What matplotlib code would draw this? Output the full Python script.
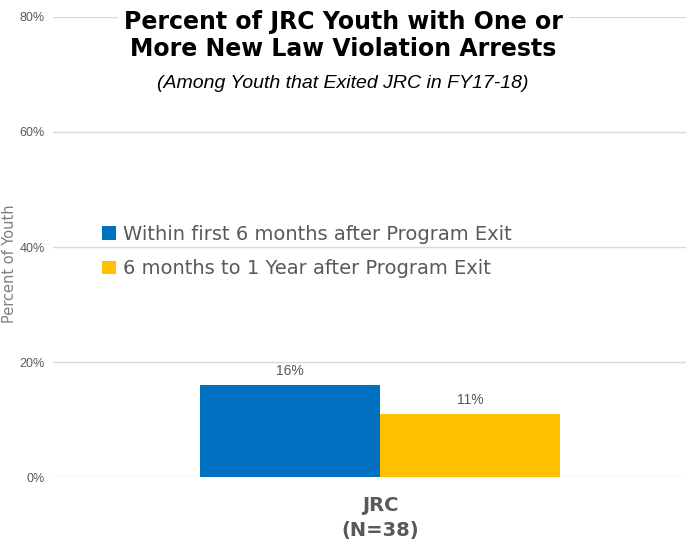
import numpy as np
import matplotlib.pyplot as plt

# Data
categories = ['JRC\n(N=38)']
series_names = ['Within first 6 months after Program Exit',
                '6 months to 1 Year after Program Exit']
series_values = [[16], [11]]
colors = ['#0070C0', '#FFC000']
y_ticks = [0, 20, 40, 60, 80]

narrow = ['Liberation Sans', 'DejaVu Sans']
gray = '#595959'

fig = plt.figure(figsize=(6.86, 5.5), dpi=100)
ax = fig.add_axes([0.0773, 0.1327, 0.9227, 0.8364])

x = np.arange(len(categories))
width = 0.284
offsets = [-width / 2, width / 2]
for vals, name, col, off in zip(series_values, series_names, colors, offsets):
    bars = ax.bar(x + off, vals, width, color=col, label=name, zorder=3)
    for b, v in zip(bars, vals):
        ax.text(b.get_x() + b.get_width() / 2, v + 1.2, f'{v}%',
                ha='center', va='bottom', fontsize=10, color=gray,
                family=narrow)

ax.set_xlim(-0.5166, 0.4834)
ax.set_ylim(0, 80)
ax.set_yticks(y_ticks)
ax.set_yticklabels([f'{t}%' for t in y_ticks], family=narrow, fontsize=9,
                   color=gray)
ax.set_xticks(x)
ax.set_xticklabels(categories, fontsize=14, fontweight='bold', color=gray,
                   linespacing=1.35)
ax.tick_params(axis='both', length=0)
ax.tick_params(axis='x', pad=14)
ax.tick_params(axis='y', pad=6)
ax.grid(axis='y', color='#d9d9d9', linewidth=1, zorder=0)
for s in ax.spines.values():
    s.set_visible(False)

fig.text(0.014, 0.52, 'Percent of Youth', rotation=90, ha='center',
         va='center', fontsize=10.5, color='#7f7f7f')

ax.legend(loc='upper left', bbox_to_anchor=(0.065, 0.565), frameon=False,
          fontsize=14, labelcolor=gray, handlelength=0.7, handleheight=0.7,
          handletextpad=0.4, labelspacing=0.8, borderaxespad=0)

# Title block with white background over the grid
fig.text(0.5, 0.982, 'Percent of JRC Youth with One or\nMore New Law Violation Arrests',
         ha='center', va='top', fontsize=17, fontweight='bold', color='black',
         linespacing=1.15, backgroundcolor='white')
fig.text(0.5, 0.848, '(Among Youth that Exited JRC in FY17-18)', ha='center',
         va='center', fontsize=14, style='italic', color='black', family=narrow)

fig.savefig('out.png', dpi=100)
